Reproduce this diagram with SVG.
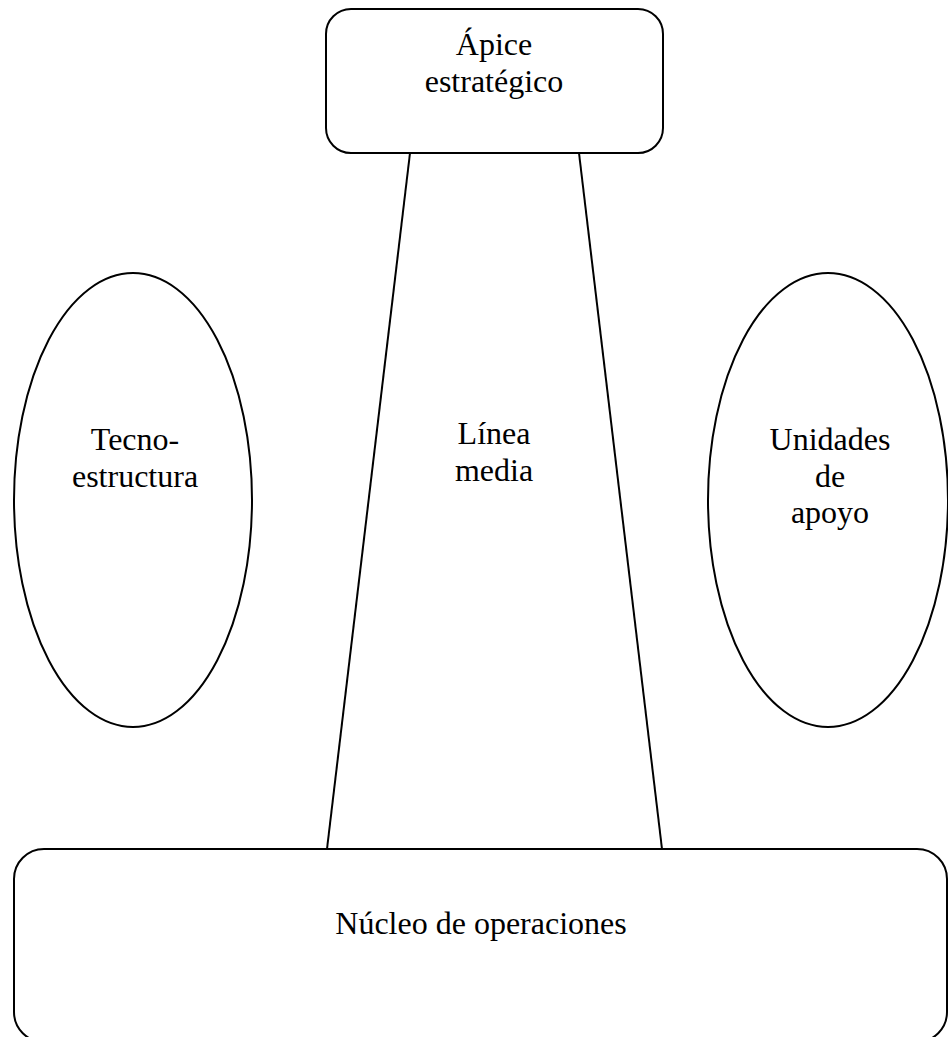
<svg xmlns="http://www.w3.org/2000/svg" width="948" height="1037" viewBox="0 0 948 1037">
<style>
.shape{fill:#fff;stroke:#000;stroke-width:2}
.line{fill:none;stroke:#000;stroke-width:2}
.lbl{font-family:"Liberation Serif","Times New Roman",serif;font-size:32px;fill:#000;text-anchor:middle}
</style>
<rect width="948" height="1037" fill="#fff"/>
<g id="connectors">
<line class="line" x1="410" y1="153" x2="327" y2="849"/>
<line class="line" x1="579" y1="153" x2="662" y2="849"/>
</g>
<g id="apice">
<rect class="shape" x="326" y="9" width="337" height="144" rx="25" ry="25"/>
<text class="lbl" x="494" y="55">Ápice</text>
<text class="lbl" x="494" y="92">estratégico</text>
</g>
<g id="linea-media">
<text class="lbl" x="494" y="444">Línea</text>
<text class="lbl" x="494" y="481">media</text>
</g>
<g id="tecnoestructura">
<ellipse class="shape" cx="133" cy="500" rx="119" ry="227"/>
<text class="lbl" x="135" y="450">Tecno-</text>
<text class="lbl" x="135" y="487">estructura</text>
</g>
<g id="unidades-apoyo">
<ellipse class="shape" cx="828" cy="500" rx="120" ry="227"/>
<text class="lbl" x="830" y="450">Unidades</text>
<text class="lbl" x="830" y="487">de</text>
<text class="lbl" x="830" y="523">apoyo</text>
</g>
<g id="nucleo">
<rect class="shape" x="14" y="849" width="933" height="193" rx="30" ry="30"/>
<text class="lbl" x="481" y="934">Núcleo de operaciones</text>
</g>
</svg>
